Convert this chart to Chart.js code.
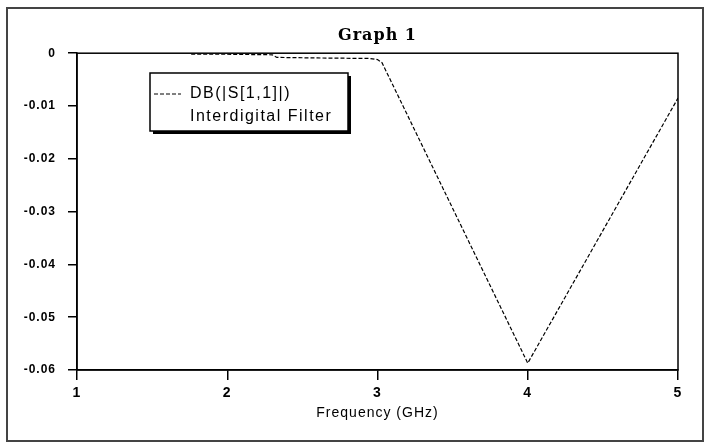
<!DOCTYPE html>
<html>
<head>
<meta charset="utf-8">
<script src="https://cdn.jsdelivr.net/npm/chart.js@4"></script>
<style>
  html, body { margin: 0; padding: 0; background: #fff; }
  #wrap { width: 709px; height: 444px; }
</style>
</head>
<body>
<div id="wrap"><canvas id="grafico" width="709" height="444"></canvas></div>
<script>
// dados
const freqGHz = [1.76, 2.0, 2.3, 2.33, 2.6, 2.95, 3.0, 3.03, 4.0, 5.0];
const s11dB = [-0.0002, -0.0002, -0.0003, -0.0008, -0.0009, -0.001, -0.0012, -0.0018, -0.0587, -0.0085];
const xTicks = [1, 2, 3, 4, 5];
const yTicks = [0, -0.01, -0.02, -0.03, -0.04, -0.05, -0.06];
const serieNome = 'DB(|S[1,1]|)';
const serieSub = 'Interdigital Filter';

const pontos = freqGHz.map((f, i) => ({ x: f, y: s11dB[i] }));

// moldura externa, caixa do grafico e legenda desenhada a mao
const molduraPlugin = {
    id: 'moldura',
    beforeDraw(chart) {
        const c = chart.ctx;
        c.save();
        c.fillStyle = '#fff';
        c.fillRect(0, 0, chart.width, chart.height);
        c.strokeStyle = '#444';
        c.lineWidth = 2;
        c.strokeRect(7, 8, 696, 433);
        c.restore();
        c.letterSpacing = '1px';
    },
    afterDraw(chart) {
        const c = chart.ctx;
        const a = chart.chartArea;
        c.save();
        c.strokeStyle = '#000';
        c.lineWidth = 1.5;
        c.strokeRect(a.left, a.top, a.right - a.left, a.bottom - a.top);

        // legenda
        const lx = 150, ly = 73, lw = 198, lh = 58;
        c.fillStyle = '#000';
        c.fillRect(lx + 3, ly + 3, lw, lh);
        c.fillStyle = '#fff';
        c.fillRect(lx, ly, lw, lh);
        c.strokeStyle = '#000';
        c.lineWidth = 1.5;
        c.strokeRect(lx, ly, lw, lh);
        c.lineWidth = 1;
        c.setLineDash([4, 2]);
        c.beginPath();
        c.moveTo(lx + 4, ly + 21);
        c.lineTo(lx + 31, ly + 21);
        c.stroke();
        c.setLineDash([]);
        c.fillStyle = '#000';
        c.font = '16px "Liberation Sans", Arial, sans-serif';
        c.letterSpacing = '1.5px';
        c.textBaseline = 'middle';
        c.fillText(serieNome, lx + 40, ly + 21);
        c.fillText(serieSub, lx + 40, ly + 44);
        c.restore();
        c.letterSpacing = '0px';
    }
};

const ctxGrafico = document.getElementById('grafico').getContext('2d');
const grafico = new Chart(ctxGrafico, {
    type: 'line',
    data: {
        datasets: [{
            label: serieNome,
            data: pontos,
            borderColor: '#000',
            borderWidth: 1.2,
            borderDash: [4, 2],
            pointRadius: 0,
            tension: 0,
            fill: false
        }]
    },
    options: {
        responsive: false,
        animation: false,
        layout: {
            padding: { left: 0, right: 31, top: 0, bottom: 22 }
        },
        plugins: {
            legend: { display: false },
            tooltip: { enabled: false },
            title: {
                display: true,
                text: 'Graph 1',
                fullSize: false,
                color: '#000',
                font: { family: '"DejaVu Serif", serif', size: 16, weight: 'bold' },
                padding: { top: 26, bottom: 8 }
            }
        },
        scales: {
            x: {
                type: 'linear',
                min: 1,
                max: 5,
                afterBuildTicks: (s) => { s.ticks = xTicks.map(v => ({ value: v })); },
                afterFit: (s) => { s.height = 52; },
                ticks: {
                    color: '#000',
                    padding: 5,
                    font: { family: '"Liberation Sans", Arial, sans-serif', size: 14, weight: 'bold' }
                },
                grid: { drawOnChartArea: false, tickLength: 10, color: '#000', lineWidth: 1.5 },
                border: { color: '#000', width: 1.5 },
                title: {
                    display: true,
                    text: 'Frequency (GHz)',
                    color: '#000',
                    padding: { top: 2, bottom: 0 },
                    font: { family: '"Liberation Sans", Arial, sans-serif', size: 14 }
                }
            },
            y: {
                type: 'linear',
                min: -0.06,
                max: 0,
                afterBuildTicks: (s) => { s.ticks = yTicks.map(v => ({ value: v })); },
                afterFit: (s) => { s.width = 77; },
                ticks: {
                    color: '#000',
                    padding: 12,
                    font: { family: '"Liberation Sans", Arial, sans-serif', size: 12, weight: 'bold' },
                    callback: (v) => v === 0 ? '0' : v.toFixed(2)
                },
                grid: { drawOnChartArea: false, tickLength: 9, color: '#000', lineWidth: 1.5 },
                border: { color: '#000', width: 1.5 }
            }
        }
    },
    plugins: [molduraPlugin]
});
</script>
</body>
</html>
